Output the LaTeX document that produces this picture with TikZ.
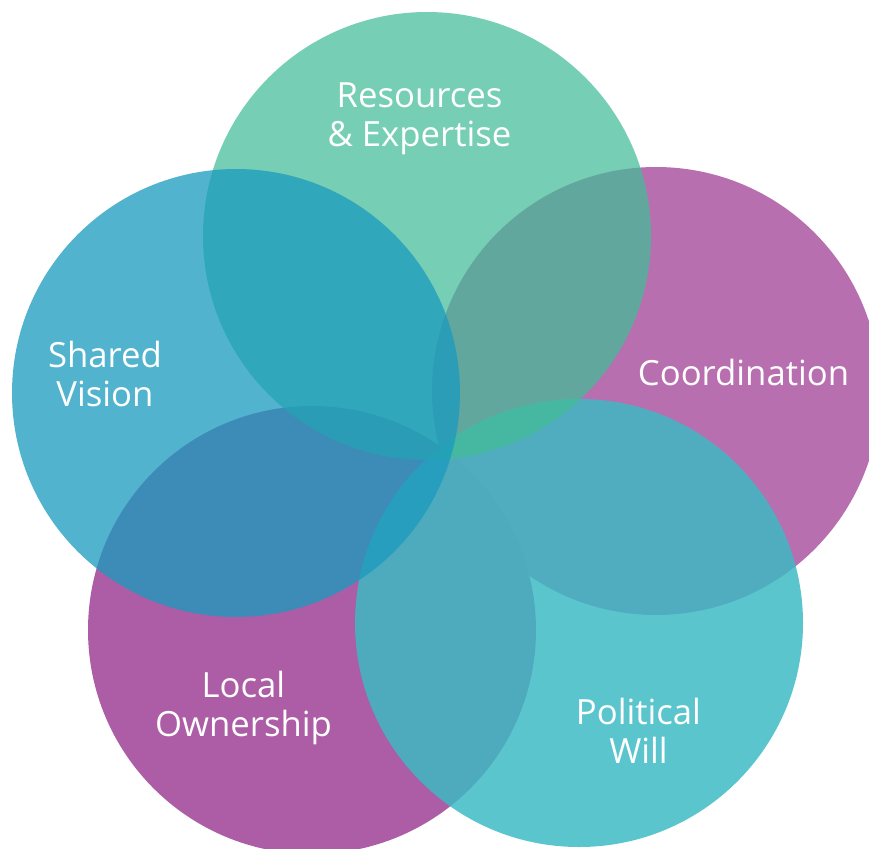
\documentclass[tikz,border=0pt]{standalone}
\usepackage{fontspec}
\setmainfont{Open Sans}
\definecolor{cCO}{RGB}{184,111,175}
\definecolor{cLO}{RGB}{172,93,165}
\definecolor{cPW}{RGB}{60,186,195}
\definecolor{cRE}{RGB}{67,189,152}
\definecolor{cSV}{RGB}{27,155,190}
\tikzset{
  bubble/.style={circle, minimum size=448pt, inner sep=0pt, draw=none},
  lbl/.style={text=white, align=center, inner sep=0pt, font=\fontsize{34.7}{39}\selectfont}
}
\begin{document}
\begin{tikzpicture}[x=1pt,y=-1pt]
\useasboundingbox (0,0) rectangle (869,848);
\node[bubble, fill=cCO] (co) at (656,391) {};
\node[bubble, fill=cLO] (lo) at (312,630) {};
\node[bubble, fill=cPW, fill opacity=0.84] (pw) at (579,623) {};
\node[bubble, fill=cRE, fill opacity=0.73] (re) at (427,236) {};
\node[bubble, fill=cSV, fill opacity=0.76] (sv) at (236,393) {};
\node[lbl] (tre) at (419.5,119) {Resources\\\& Expertise};
\node[lbl] (tco) at (743.5,372) {Coordination};
\node[lbl] (tsv) at (105,374) {Shared\\Vision};
\node[lbl] (tlo) at (243.5,708) {Local\\Ownership};
\node[lbl] (tpw) at (638.5,731) {Political\\Will};
\end{tikzpicture}
\end{document}
